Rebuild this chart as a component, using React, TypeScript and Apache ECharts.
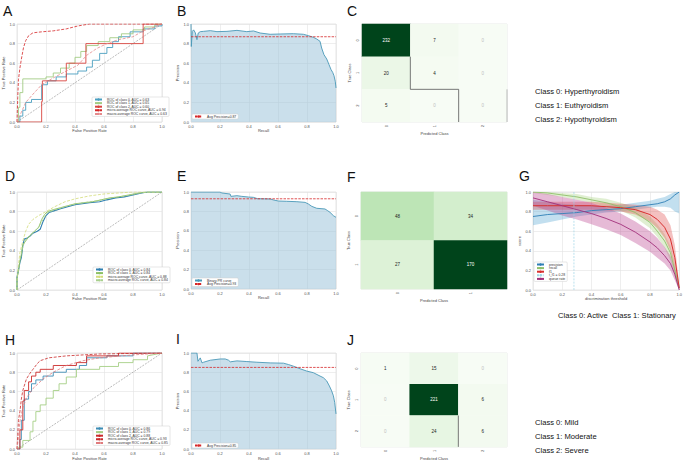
import React, { useEffect, useRef } from 'react';
import * as echarts from 'echarts';

const FONT = 'Liberation Sans, Arial, Helvetica, sans-serif';
const GREENS = ['#f7fcf5', '#e5f5e0', '#c7e9c0', '#a1d99b', '#74c476', '#41ab5d', '#238b45', '#006d2c', '#00441b'];

// ---------- Panel A : ROC (3 classes) ----------
const A_ROC0 = [[0,0],[0.02,0],[0.02,0.06],[0.04,0.06],[0.04,0.12],[0.06,0.12],[0.06,0.2],[0.1,0.2],[0.1,0.23],[0.17,0.23],[0.17,0.38],[0.21,0.38],[0.21,0.42],[0.27,0.42],[0.27,0.46],[0.34,0.46],[0.34,0.49],[0.42,0.49],[0.42,0.52],[0.48,0.52],[0.48,0.56],[0.52,0.56],[0.52,0.63],[0.57,0.63],[0.57,0.7],[0.62,0.7],[0.62,0.76],[0.66,0.76],[0.66,0.82],[0.7,0.82],[0.7,0.87],[0.78,0.87],[0.78,0.92],[0.87,0.92],[0.87,0.95],[0.95,0.95],[0.95,0.98],[1,0.98],[1,1]];
const A_ROC1 = [[0,0],[0.01,0],[0.01,0.15],[0.02,0.15],[0.02,0.3],[0.04,0.3],[0.04,0.44],[0.2,0.44],[0.2,0.46],[0.25,0.46],[0.25,0.5],[0.3,0.5],[0.3,0.55],[0.36,0.55],[0.36,0.6],[0.4,0.6],[0.4,0.66],[0.44,0.66],[0.44,0.72],[0.48,0.72],[0.48,0.78],[0.56,0.78],[0.56,0.82],[0.64,0.82],[0.64,0.86],[0.72,0.86],[0.72,0.9],[0.8,0.9],[0.8,0.94],[0.88,0.94],[0.88,0.97],[0.95,0.97],[0.95,1],[1,1]];
const A_ROC2 = [[0,0],[0.17,0],[0.17,0.21],[0.175,0.21],[0.175,0.42],[0.34,0.42],[0.34,0.6],[0.475,0.6],[0.475,0.8],[0.87,0.8],[0.87,1],[1,1]];
const A_MICRO = [[0,0],[0.005,0.25],[0.01,0.43],[0.02,0.55],[0.03,0.64],[0.045,0.76],[0.06,0.83],[0.08,0.88],[0.11,0.91],[0.17,0.92],[0.25,0.93],[0.34,0.95],[0.42,0.98],[0.5,1],[1,1]];
const A_MACRO = [[0,0],[0.03,0.1],[0.06,0.2],[0.12,0.3],[0.17,0.38],[0.25,0.45],[0.34,0.52],[0.42,0.58],[0.48,0.68],[0.55,0.75],[0.62,0.8],[0.7,0.84],[0.8,0.87],[0.87,0.93],[0.95,0.97],[1,1]];
const A_NAMES = ['ROC of class 0, AUC = 0.63', 'ROC of class 1, AUC = 0.65', 'ROC of class 2, AUC = 0.60', 'micro-average ROC curve, AUC = 0.94', 'macro-average ROC curve, AUC = 0.63'];

// ---------- Panel B : PR curve ----------
const B_RECALL = [0,0.002,0.009,0.018,0.03,0.041,0.05,0.064,0.087,0.133,0.179,0.248,0.317,0.385,0.431,0.477,0.546,0.615,0.706,0.775,0.81,0.844,0.867,0.89,0.901,0.917,0.936,0.952,0.966,0.977,0.986,0.995,1.0];
const B_PRECISION = [1.0,0.77,0.925,0.94,0.91,0.84,0.908,0.922,0.925,0.932,0.922,0.925,0.935,0.922,0.929,0.908,0.895,0.898,0.901,0.895,0.881,0.864,0.847,0.823,0.755,0.687,0.643,0.585,0.534,0.507,0.473,0.415,0.347];
const B_AVG = 0.87;

// ---------- Panel C : confusion matrix ----------
const C_CLASSES = ['0', '1', '2'];
const C_MATRIX = [[232, 7, 0], [20, 4, 0], [5, 0, 0]];
const C_OUTLINE = [[1,1],[1,2],[2,2],[2,3]];

// ---------- Panel D : ROC (binary) ----------
const D_ROC0 = [[0,0],[0,0.13],[0.01,0.2],[0.02,0.28],[0.03,0.33],[0.04,0.45],[0.05,0.52],[0.07,0.53],[0.09,0.55],[0.11,0.58],[0.14,0.6],[0.16,0.62],[0.18,0.7],[0.2,0.76],[0.22,0.79],[0.26,0.81],[0.3,0.83],[0.35,0.85],[0.4,0.87],[0.45,0.88],[0.5,0.89],[0.57,0.9],[0.62,0.92],[0.68,0.94],[0.74,0.95],[0.8,0.97],[0.86,0.99],[0.9,1],[1,1]];
const D_ROC1 = [[0,0],[0,0.12],[0.01,0.19],[0.02,0.3],[0.03,0.36],[0.04,0.46],[0.06,0.5],[0.08,0.54],[0.1,0.57],[0.12,0.6],[0.15,0.64],[0.17,0.72],[0.19,0.77],[0.21,0.8],[0.25,0.82],[0.3,0.84],[0.35,0.86],[0.4,0.88],[0.46,0.89],[0.52,0.9],[0.58,0.92],[0.64,0.94],[0.7,0.95],[0.77,0.97],[0.84,0.99],[0.9,1],[1,1]];
const D_MICRO = [[0,0],[0,0.1],[0.01,0.25],[0.02,0.38],[0.04,0.5],[0.06,0.6],[0.08,0.67],[0.11,0.72],[0.15,0.76],[0.2,0.8],[0.26,0.85],[0.33,0.9],[0.4,0.93],[0.5,0.96],[0.6,0.98],[0.7,0.99],[0.8,1],[1,1]];
const D_MACRO = [[0,0],[0,0.12],[0.02,0.3],[0.04,0.44],[0.06,0.52],[0.1,0.57],[0.14,0.62],[0.18,0.72],[0.21,0.79],[0.27,0.82],[0.35,0.86],[0.45,0.89],[0.55,0.91],[0.65,0.94],[0.75,0.96],[0.85,0.99],[0.9,1],[1,1]];
const D_NAMES = ['ROC of class 0, AUC = 0.84', 'ROC of class 1, AUC = 0.84', 'micro-average ROC curve, AUC = 0.88', 'macro-average ROC curve, AUC = 0.84'];

// ---------- Panel E : binary PR ----------
const E_RECALL = [0,0.2,0.213,0.27,0.275,0.317,0.35,0.397,0.43,0.459,0.546,0.569,0.603,0.66,0.73,0.787,0.81,0.833,0.867,0.924,0.94,0.959,0.982,1.0];
const E_PRECISION = [1.0,1.0,0.99,0.979,0.955,0.962,0.955,0.948,0.945,0.931,0.928,0.918,0.907,0.904,0.9,0.893,0.876,0.852,0.832,0.825,0.81,0.79,0.756,0.739];
const E_AVG = 0.93;

// ---------- Panel F : confusion matrix (binary) ----------
const F_CLASSES = ['0', '1'];
const F_MATRIX = [[48, 34], [27, 170]];

// ---------- Panel G : discrimination threshold ----------
const G_THRESHOLD = [0,0.1,0.2,0.3,0.4,0.5,0.6,0.7,0.8,0.85,0.9,0.94,0.97,1.0];
const G_PRECISION = [0.75,0.77,0.78,0.79,0.81,0.82,0.83,0.85,0.87,0.88,0.9,0.93,0.97,1.0];
const G_PRECISION_LO = [0.66,0.69,0.72,0.75,0.77,0.79,0.8,0.82,0.84,0.85,0.85,0.84,0.8,0.78];
const G_PRECISION_HI = [0.92,0.9,0.88,0.87,0.86,0.86,0.87,0.89,0.91,0.93,0.95,0.98,1.0,1.0];
const G_RECALL = [1.0,0.99,0.97,0.95,0.92,0.89,0.85,0.79,0.69,0.6,0.5,0.38,0.2,0.02];
const G_RECALL_LO = [0.99,0.97,0.95,0.92,0.89,0.85,0.81,0.74,0.63,0.54,0.43,0.3,0.14,0.0];
const G_RECALL_HI = [1.0,1.0,0.99,0.98,0.95,0.93,0.89,0.84,0.75,0.67,0.57,0.45,0.27,0.05];
const G_F1 = [0.86,0.86,0.86,0.86,0.86,0.85,0.84,0.82,0.77,0.72,0.64,0.52,0.33,0.02];
const G_F1_LO = [0.82,0.82,0.82,0.82,0.82,0.81,0.8,0.77,0.7,0.63,0.53,0.4,0.2,0.0];
const G_F1_HI = [0.9,0.9,0.9,0.9,0.9,0.89,0.88,0.87,0.85,0.82,0.77,0.66,0.46,0.05];
const G_QUEUE = [0.94,0.9,0.86,0.82,0.78,0.73,0.67,0.59,0.49,0.43,0.35,0.27,0.16,0.0];
const G_QUEUE_LO = [0.86,0.81,0.76,0.72,0.67,0.62,0.56,0.48,0.39,0.33,0.27,0.2,0.1,0.0];
const G_QUEUE_HI = [1.0,0.98,0.95,0.92,0.89,0.84,0.78,0.7,0.6,0.53,0.44,0.35,0.22,0.02];
const G_TF1 = 0.28;

// ---------- Panel H : ROC (3 classes) ----------
const H_ROC0 = [[0,0],[0.02,0],[0.02,0.1],[0.03,0.1],[0.03,0.3],[0.05,0.3],[0.05,0.52],[0.08,0.52],[0.08,0.6],[0.1,0.6],[0.1,0.68],[0.13,0.68],[0.13,0.72],[0.18,0.72],[0.18,0.76],[0.25,0.76],[0.25,0.8],[0.34,0.8],[0.34,0.83],[0.43,0.83],[0.43,0.87],[0.48,0.87],[0.48,0.95],[0.62,0.95],[0.62,0.97],[0.8,0.97],[0.8,1],[1,1]];
const H_ROC1 = [[0,0],[0.01,0.02],[0.04,0.02],[0.04,0.09],[0.09,0.09],[0.09,0.18],[0.11,0.18],[0.11,0.29],[0.13,0.29],[0.13,0.39],[0.16,0.39],[0.16,0.46],[0.2,0.46],[0.2,0.53],[0.25,0.53],[0.25,0.61],[0.29,0.61],[0.29,0.68],[0.34,0.68],[0.34,0.75],[0.41,0.75],[0.41,0.83],[0.57,0.83],[0.57,0.86],[0.7,0.86],[0.7,0.9],[0.8,0.9],[0.8,0.93],[0.9,0.93],[0.9,0.97],[1,1]];
const H_ROC2 = [[0,0],[0.02,0],[0.02,0.2],[0.04,0.2],[0.04,0.5],[0.05,0.5],[0.05,0.61],[0.08,0.61],[0.08,0.7],[0.1,0.7],[0.1,0.76],[0.13,0.76],[0.13,0.8],[0.16,0.8],[0.16,0.83],[0.25,0.83],[0.25,0.87],[0.41,0.87],[0.41,0.9],[0.48,0.9],[0.48,0.97],[0.7,0.97],[0.7,1],[1,1]];
const H_MICRO = [[0,0],[0.005,0.15],[0.01,0.3],[0.02,0.39],[0.03,0.52],[0.04,0.61],[0.065,0.73],[0.09,0.79],[0.11,0.83],[0.14,0.89],[0.16,0.92],[0.22,0.95],[0.34,0.97],[0.57,0.99],[1,1]];
const H_MACRO = [[0,0],[0.01,0.12],[0.02,0.29],[0.04,0.43],[0.065,0.53],[0.11,0.63],[0.18,0.73],[0.25,0.8],[0.34,0.87],[0.455,0.92],[0.57,0.95],[0.8,0.98],[1,1]];
const H_NAMES = ['ROC of class 0, AUC = 0.86', 'ROC of class 1, AUC = 0.79', 'ROC of class 2, AUC = 0.88', 'micro-average ROC curve, AUC = 0.93', 'macro-average ROC curve, AUC = 0.85'];

// ---------- Panel I : PR curve ----------
const I_RECALL = [0,0.041,0.048,0.064,0.076,0.087,0.133,0.202,0.236,0.259,0.271,0.317,0.385,0.454,0.546,0.638,0.672,0.706,0.752,0.798,0.844,0.89,0.913,0.936,0.954,0.97,0.982,0.991,1.0];
const I_PRECISION = [1.0,1.0,0.914,0.949,0.897,0.904,0.925,0.938,0.938,0.925,0.908,0.918,0.911,0.904,0.897,0.894,0.88,0.863,0.836,0.812,0.795,0.76,0.743,0.709,0.658,0.606,0.555,0.486,0.366];
const I_AVG = 0.85;

// ---------- Panel J : confusion matrix ----------
const J_CLASSES = ['0', '1', '2'];
const J_MATRIX = [[1, 15, 0], [0, 221, 6], [0, 24, 6]];
const J_OUTLINE = [[2,2],[2,3]];

const GRIDS = [
  { left: 17, top: 24, width: 145, height: 98 },   // A
  { left: 191, top: 24, width: 145, height: 98 },  // B
  { left: 362, top: 24, width: 145, height: 98 },  // C
  { left: 17, top: 192, width: 145, height: 98 },  // D
  { left: 191, top: 192, width: 145, height: 97 }, // E
  { left: 361, top: 192, width: 146, height: 97 }, // F
  { left: 533, top: 192, width: 148, height: 98 }, // G
  { left: 17, top: 353, width: 145, height: 99 },  // H
  { left: 191, top: 353, width: 145, height: 98 }, // I
  { left: 361, top: 353, width: 146, height: 97 }, // J
];

const TICK_FONT = 4;

function valueAxis(gridIndex: number, name: string, gap: number) {
  return {
    type: 'value', gridIndex, min: 0, max: 1, interval: 0.2,
    name, nameLocation: 'middle', nameGap: gap,
    nameTextStyle: { fontSize: 4, color: '#444', fontFamily: FONT },
    axisLabel: { fontSize: TICK_FONT, color: '#555', margin: 2, fontFamily: FONT, formatter: (v: number) => v.toFixed(1) },
    axisLine: { show: false }, axisTick: { show: false },
    splitLine: { show: true, lineStyle: { color: '#e2e2e2', width: 0.6 } },
  };
}

function catAxis(gridIndex: number, data: string[], name: string, gap: number, inverse: boolean) {
  return {
    type: 'category', gridIndex, data, inverse,
    name, nameLocation: 'middle', nameGap: gap,
    nameTextStyle: { fontSize: 4, color: '#444', fontFamily: FONT },
    axisLabel: { fontSize: TICK_FONT, color: '#555', margin: 3, rotate: 90, fontFamily: FONT },
    axisLine: { show: false }, axisTick: { show: false }, splitLine: { show: false },
  };
}

function lineSeries(name: string, idx: number, data: number[][], color: string, width: number, type: any = 'solid', z = 3) {
  return {
    type: 'line', name, xAxisIndex: idx, yAxisIndex: idx, data, symbol: 'none', showSymbol: false,
    lineStyle: { color, width, type }, itemStyle: { color }, silent: true, z,
  };
}

function prSeries(name: string, idx: number, recall: number[], precision: number[]) {
  return {
    type: 'line', name, xAxisIndex: idx, yAxisIndex: idx,
    data: recall.map((r, i) => [r, precision[i]]), symbol: 'none', showSymbol: false,
    lineStyle: { color: '#4a98b8', width: 0.9 }, itemStyle: { color: '#4a98b8' },
    areaStyle: { color: '#9fc5da', opacity: 0.55 }, silent: true, z: 2,
  };
}

function bandSeries(name: string, idx: number, xs: number[], lo: number[], hi: number[], color: string) {
  return {
    type: 'custom', name, xAxisIndex: idx, yAxisIndex: idx, silent: true, z: 1,
    data: [[xs[0], lo[0]]],
    renderItem: (_params: any, api: any) => {
      const upper = xs.map((x, i) => api.coord([x, hi[i]]));
      const lower = xs.map((x, i) => api.coord([x, lo[i]])).reverse();
      return { type: 'polygon', shape: { points: upper.concat(lower) }, style: { fill: color, opacity: 0.35 } };
    },
  };
}

function heatCells(matrix: number[][]) {
  const maxV = Math.max(...matrix.flat());
  const cells: any[] = [];
  matrix.forEach((row, r) => row.forEach((v, c) => {
    cells.push({ value: [c, r, v], label: { color: v > maxV * 0.5 ? '#ffffff' : v === 0 ? '#c0c0c0' : '#222222' } });
  }));
  return cells;
}

function legend(names: string[], left: number, top: number) {
  return {
    data: names, left, top, orient: 'vertical', selectedMode: false,
    itemWidth: 7, itemHeight: 3, itemGap: 0.6, padding: [1, 2, 1, 2],
    backgroundColor: '#ffffff', borderColor: '#cccccc', borderWidth: 0.5, borderRadius: 1,
    textStyle: { fontSize: 3.4, color: '#333', fontFamily: FONT, padding: [0, 0, 0, 0] },
  };
}

function buildOption() {
  const xAxis: any[] = [];
  const yAxis: any[] = [];
  const series: any[] = [];
  const visualMap: any[] = [];
  const push = (s: any) => { series.push(s); return series.length - 1; };

  const rocIdx = [0, 3, 7];
  const prIdx = [1, 4, 8];
  for (let i = 0; i < 10; i++) {
    if (rocIdx.includes(i)) {
      xAxis.push(valueAxis(i, 'False Positive Rate', 5));
      yAxis.push(valueAxis(i, 'True Positive Rate', 9));
    } else if (prIdx.includes(i)) {
      xAxis.push(valueAxis(i, 'Recall', 5));
      yAxis.push(valueAxis(i, 'Precision', 9));
    } else if (i === 6) {
      xAxis.push(valueAxis(i, 'discrimination threshold', 5));
      yAxis.push(valueAxis(i, 'score', 9));
    } else {
      const cls = i === 5 ? F_CLASSES : i === 2 ? C_CLASSES : J_CLASSES;
      xAxis.push(catAxis(i, cls, 'Predicted Class', 6, false));
      yAxis.push(catAxis(i, cls, 'True Class', 11, true));
    }
  }
  [2, 9].forEach((g) => {
    xAxis.push({ type: 'value', gridIndex: g, min: 0, max: 3, show: false, splitLine: { show: false } });
    yAxis.push({ type: 'value', gridIndex: g, min: 0, max: 3, inverse: true, show: false, splitLine: { show: false } });
  });

  const dash: any = [3, 1.5];
  const diag = (idx: number) => push(lineSeries('chance ' + idx, idx, [[0, 0], [1, 1]], '#777777', 0.5, [2, 1.2], 2));

  // A
  diag(0);
  push(lineSeries(A_NAMES[0], 0, A_ROC0, '#4a9ec0', 0.9));
  push(lineSeries(A_NAMES[1], 0, A_ROC1, '#a3cc84', 0.9));
  push(lineSeries(A_NAMES[2], 0, A_ROC2, '#d9453f', 0.9));
  push(lineSeries(A_NAMES[3], 0, A_MICRO, '#d62728', 0.8, dash));
  push(lineSeries(A_NAMES[4], 0, A_MACRO, '#e58a8c', 0.8, dash));

  // B
  const bAvgName = 'Avg Precision=' + B_AVG.toFixed(2);
  push(prSeries('PR curve B', 1, B_RECALL, B_PRECISION));
  push(lineSeries(bAvgName, 1, [[0, B_AVG], [1, B_AVG]], '#d62728', 0.8, [2.5, 1.2]));

  // C
  const cHeat = push({ type: 'heatmap', xAxisIndex: 2, yAxisIndex: 2, data: heatCells(C_MATRIX), label: { show: true, fontSize: 4.5, fontFamily: FONT }, silent: true });
  visualMap.push({ type: 'continuous', show: false, seriesIndex: cHeat, dimension: 2, min: 0, max: Math.max(...C_MATRIX.flat()), inRange: { color: GREENS } });
  push({ type: 'line', name: 'C outline', xAxisIndex: 10, yAxisIndex: 10, data: C_OUTLINE, symbol: 'none', lineStyle: { color: '#555555', width: 0.8 }, silent: true, z: 5 });
  push({ type: 'line', name: 'C edge', xAxisIndex: 10, yAxisIndex: 10, data: [[3, 2], [3, 3]], symbol: 'none', lineStyle: { color: '#aaaaaa', width: 0.8 }, silent: true, z: 5 });

  // D
  diag(3);
  push(lineSeries(D_NAMES[0], 3, D_ROC0, '#2f7fb0', 1.1));
  push(lineSeries(D_NAMES[1], 3, D_ROC1, '#8cc063', 0.9));
  push(lineSeries(D_NAMES[2], 3, D_MICRO, '#d3dc7a', 0.8, dash));
  push(lineSeries(D_NAMES[3], 3, D_MACRO, '#a8d08d', 0.8, dash));

  // E
  const eAvgName = 'Avg Precision=' + E_AVG.toFixed(2);
  push(prSeries('Binary PR curve', 4, E_RECALL, E_PRECISION));
  push(lineSeries(eAvgName, 4, [[0, E_AVG], [1, E_AVG]], '#d62728', 0.8, [2.5, 1.2]));

  // F
  const fHeat = push({ type: 'heatmap', xAxisIndex: 5, yAxisIndex: 5, data: heatCells(F_MATRIX), label: { show: true, fontSize: 4.5, fontFamily: FONT }, silent: true });
  visualMap.push({ type: 'continuous', show: false, seriesIndex: fHeat, dimension: 2, min: 0, max: Math.max(...F_MATRIX.flat()), inRange: { color: GREENS } });

  // G bands + lines
  push(bandSeries('band precision', 6, G_THRESHOLD, G_PRECISION_LO, G_PRECISION_HI, '#4fa3d1'));
  push(bandSeries('band recall', 6, G_THRESHOLD, G_RECALL_LO, G_RECALL_HI, '#a5d07f'));
  push(bandSeries('band f1', 6, G_THRESHOLD, G_F1_LO, G_F1_HI, '#e04a4a'));
  push(bandSeries('band queue', 6, G_THRESHOLD, G_QUEUE_LO, G_QUEUE_HI, '#b8388a'));
  const gNames = ['precision', 'recall', 'f1', 't_f1 = ' + G_TF1.toFixed(2), 'queue rate'];
  push(lineSeries(gNames[0], 6, G_THRESHOLD.map((t, i) => [t, G_PRECISION[i]]), '#2f7fb5', 0.9));
  push(lineSeries(gNames[1], 6, G_THRESHOLD.map((t, i) => [t, G_RECALL[i]]), '#8fc06a', 0.9));
  push(lineSeries(gNames[2], 6, G_THRESHOLD.map((t, i) => [t, G_F1[i]]), '#d7302f', 1.0));
  push(lineSeries(gNames[3], 6, [[G_TF1, 0], [G_TF1, 1]], '#9fd6e6', 0.7, [2, 1.2]));
  push(lineSeries(gNames[4], 6, G_THRESHOLD.map((t, i) => [t, G_QUEUE[i]]), '#a2307a', 0.9));

  // H
  diag(7);
  push(lineSeries(H_NAMES[0], 7, H_ROC0, '#3d8db5', 0.9));
  push(lineSeries(H_NAMES[1], 7, H_ROC1, '#a6cf86', 0.9));
  push(lineSeries(H_NAMES[2], 7, H_ROC2, '#cc2b2b', 0.9));
  push(lineSeries(H_NAMES[3], 7, H_MICRO, '#c92a2a', 0.8, dash));
  push(lineSeries(H_NAMES[4], 7, H_MACRO, '#e07b7d', 0.8, dash));

  // I
  const iAvgName = 'Avg Precision=' + I_AVG.toFixed(2);
  push(prSeries('PR curve I', 8, I_RECALL, I_PRECISION));
  push(lineSeries(iAvgName, 8, [[0, I_AVG], [1, I_AVG]], '#d62728', 0.8, [2.5, 1.2]));

  // J
  const jHeat = push({ type: 'heatmap', xAxisIndex: 9, yAxisIndex: 9, data: heatCells(J_MATRIX), label: { show: true, fontSize: 4.5, fontFamily: FONT }, silent: true });
  visualMap.push({ type: 'continuous', show: false, seriesIndex: jHeat, dimension: 2, min: 0, max: Math.max(...J_MATRIX.flat()), inRange: { color: GREENS } });
  push({ type: 'line', name: 'J outline', xAxisIndex: 11, yAxisIndex: 11, data: J_OUTLINE, symbol: 'none', lineStyle: { color: '#555555', width: 0.8 }, silent: true, z: 5 });

  const legends = [
    legend(A_NAMES, 92, 97),
    legend([bAvgName], 192, 114),
    legend(D_NAMES, 93, 267),
    legend(['Binary PR curve', eAvgName], 192, 278),
    legend(gNames, 534, 262),
    legend(H_NAMES, 93, 426),
    legend([iAvgName], 192, 443),
  ];

  const label = (t: string, x: number, y: number) => ({
    type: 'text', x, y, silent: true,
    style: { text: t, fill: '#111111', font: `14px ${FONT}`, textAlign: 'left', textVerticalAlign: 'middle', verticalAlign: 'middle' },
  });
  const note = (t: string, x: number, y: number) => ({
    type: 'text', x, y, silent: true,
    style: { text: t, fill: '#111111', font: `7.6px ${FONT}`, textAlign: 'left', textVerticalAlign: 'middle', verticalAlign: 'middle' },
  });

  const graphic = [
    label('A', 3, 10.5), label('B', 177, 10.5), label('C', 347, 10.5),
    label('D', 5, 175.5), label('E', 177, 175.5), label('F', 347, 176.5), label('G', 519, 176),
    label('H', 5, 340), label('I', 176, 339), label('J', 347, 340),
    note('Class 0: Hyperthyroidism', 535, 91), note('Class 1: Euthyroidism', 535, 105), note('Class 2: Hypothyroidism', 535, 119.5),
    note('Class 0: Active  Class 1: Stationary', 558, 315),
    note('Class 0: Mild', 535, 422), note('Class 1: Moderate', 535, 436), note('Class 2: Severe', 535, 450),
  ];

  return {
    animation: false,
    backgroundColor: '#ffffff',
    textStyle: { fontFamily: FONT },
    grid: GRIDS.map((g) => ({ ...g, show: true, borderColor: '#d6d6d6', borderWidth: 0.6, containLabel: false })),
    xAxis, yAxis, series, visualMap, legend: legends, graphic,
  };
}

export default function App() {
  const ref = useRef<HTMLDivElement>(null);
  useEffect(() => {
    if (!ref.current) return;
    const chart = echarts.init(ref.current, undefined, { renderer: 'svg' });
    chart.setOption(buildOption() as any);
    return () => chart.dispose();
  }, []);
  return <div ref={ref} style={{ position: 'absolute', left: 0, top: 0, width: 685, height: 461 }} />;
}
